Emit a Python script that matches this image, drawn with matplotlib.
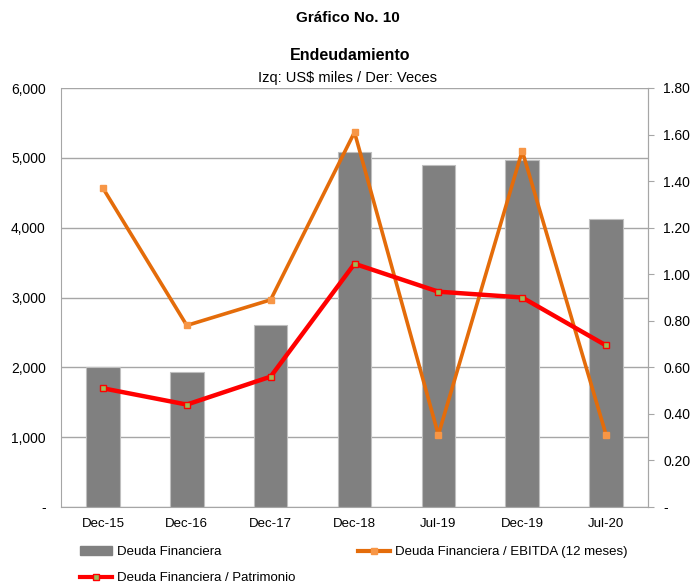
import matplotlib
matplotlib.use("Agg")
import matplotlib.pyplot as plt
import numpy as np
from matplotlib.patches import Patch
from matplotlib.lines import Line2D
from matplotlib.ticker import FuncFormatter

plt.rcParams['font.family'] = ['Liberation Sans', 'DejaVu Sans']

categories = ["Dec-15", "Dec-16", "Dec-17", "Dec-18", "Jul-19", "Dec-19", "Jul-20"]
deuda = [2010, 1928, 2603, 5080, 4900, 4970, 4126]
deuda_ebitda = [1.37, 0.78, 0.89, 1.61, 0.31, 1.53, 0.31]
deuda_patrimonio = [0.51, 0.44, 0.56, 1.045, 0.925, 0.90, 0.694]
left_ticks = [0, 1000, 2000, 3000, 4000, 5000, 6000]
right_ticks = [0, 0.2, 0.4, 0.6, 0.8, 1.0, 1.2, 1.4, 1.6, 1.8]

W, H = 694, 582
fig = plt.figure(figsize=(W / 100, H / 100), dpi=100)
ax = fig.add_axes([61 / W, 1 - 507 / H, (648 - 61) / W, (507 - 88) / H])
ax2 = ax.twinx()

x = np.arange(len(categories))
grid_c = "#A6A6A6"
ax.bar(x, deuda, width=0.4, color="#808080", edgecolor="#BFBFBF", linewidth=0.8, zorder=2)
ax.set_xlim(-0.5, len(categories) - 0.5)
ax.set_ylim(0, 6000)
ax.set_yticks(left_ticks)
ax.yaxis.set_major_formatter(FuncFormatter(lambda v, p: "-" if v == 0 else f"{v:,.0f}"))
ax.grid(axis="y", color=grid_c, linewidth=1.0, zorder=0)
ax.set_axisbelow(True)
ax.set_xticks(x)
ax.set_xticklabels(categories)
ax.tick_params(axis="x", length=0, pad=8, labelsize=9.5)
ax.tick_params(axis="y", length=0, pad=11, labelsize=10)
ax.spines["top"].set_visible(False)
ax.spines["left"].set_color(grid_c)
ax.spines["bottom"].set_color(grid_c)
ax.spines["right"].set_color(grid_c)

ax2.plot(x, deuda_ebitda, color="#E46C0A", linewidth=2.6, marker="s", markersize=4,
         markerfacecolor="#F79646", markeredgecolor="#F79646", zorder=3)
ax2.plot(x, deuda_patrimonio, color="#FF0000", linewidth=3.2, marker="s", markersize=4,
         markerfacecolor="#9BBB59", markeredgecolor="#FF0000", markeredgewidth=1, zorder=4)
ax2.set_ylim(0, 1.8)
ax2.set_yticks(right_ticks)
ax2.yaxis.set_major_formatter(FuncFormatter(lambda v, p: "-" if v == 0 else f"{v:.2f}"))
ax2.tick_params(axis="y", length=4, color=grid_c, pad=7, labelsize=10)
for s in ["top", "left", "bottom"]:
    ax2.spines[s].set_visible(False)
ax2.spines["right"].set_color(grid_c)

fig.text(348 / W, 1 - 18 / H, "Gráfico No. 10", ha="center", va="center", fontsize=11, fontweight="bold")
fig.text(350 / W, 1 - 55 / H, "Endeudamiento", ha="center", va="center", fontsize=11.5, fontweight="bold")
fig.text(347 / W, 1 - 78 / H, "Izq: US$ miles / Der: Veces", ha="center", va="center", fontsize=10.5)

handles = [
    Patch(facecolor="#808080", edgecolor="#808080"),
    Line2D([0], [0], color="#FF0000", linewidth=3, marker="s", markersize=4,
           markerfacecolor="#9BBB59", markeredgecolor="#FF0000"),
    Line2D([0], [0], color="#E46C0A", linewidth=3, marker="s", markersize=4,
           markerfacecolor="#F79646", markeredgecolor="#F79646"),
]
labels = ["Deuda Financiera", "Deuda Financiera / Patrimonio", "Deuda Financiera / EBITDA (12 meses)"]
fig.legend(handles, labels, loc="upper left", bbox_to_anchor=(80 / W, 1 - 546 / H), ncol=2,
           frameon=False, fontsize=9.5, handlelength=2.42, handletextpad=0.38,
           columnspacing=4.75, labelspacing=1.05, borderaxespad=0, borderpad=0)

fig.savefig("out.png", dpi=100)
